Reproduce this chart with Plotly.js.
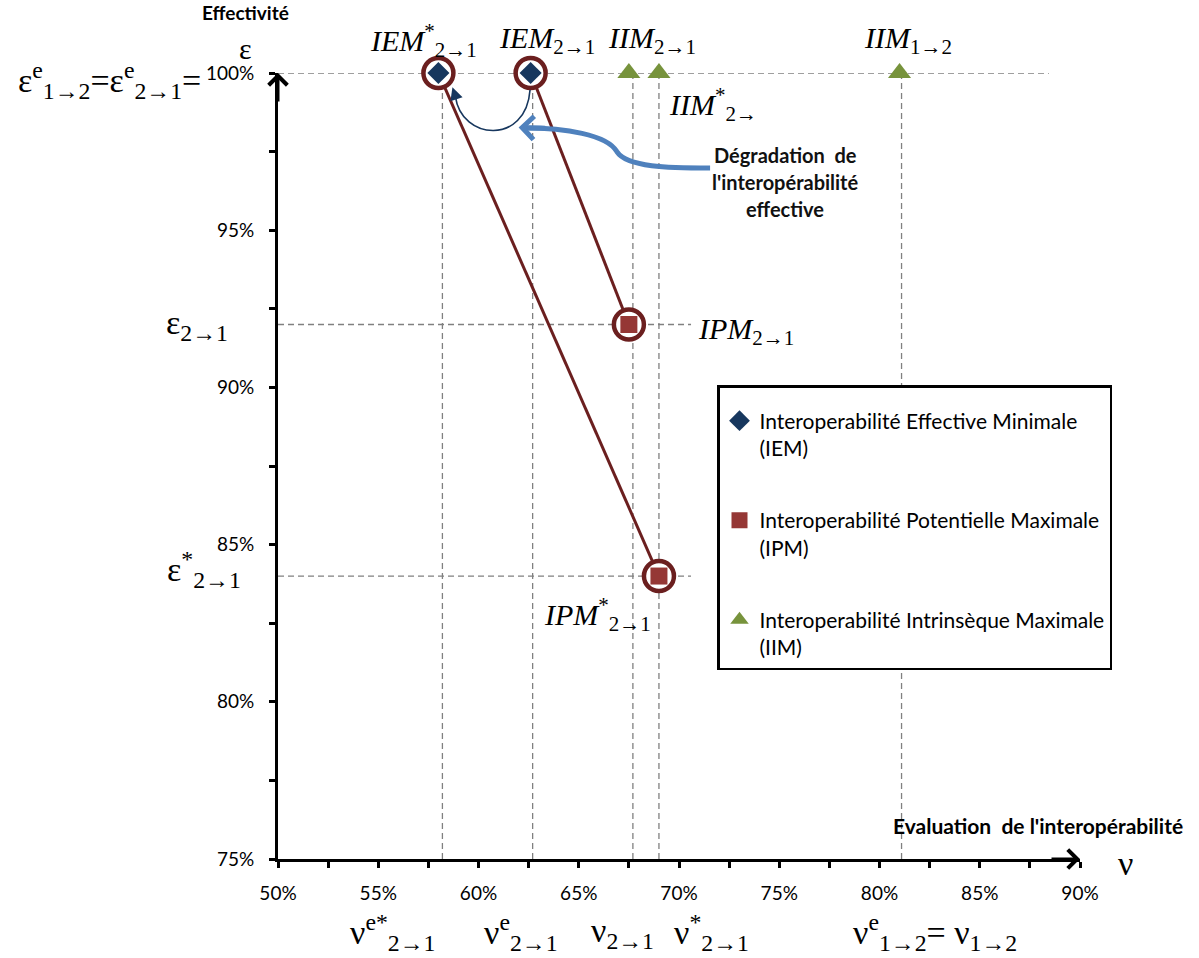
<!DOCTYPE html>
<html><head><meta charset="utf-8">
<script src="https://cdn.plot.ly/plotly-3.0.1.min.js"></script>
<style>html,body{margin:0;padding:0;background:#fff}#chart{width:1199px;height:958px}</style>
</head><body><div id="chart"></div><script>
// ---- data ----
const iemX = [58, 62.6];
const iemY = [100, 100];
const ipmX = [67.5, 69];
const ipmY = [92, 84];
const iimX = [67.5, 69, 81];
const iimY = [100, 100, 100];
const guideX = [58.2, 62.7, 67.7, 69, 81.1];
const guideXTop = [100.65, 100.65, 100, 100.9, 100];
const guideY = [100, 92, 84];
const guideYEnd = [88.45, 70.6, 70.6];
const xTickVals = [50, 55, 60, 65, 70, 75, 80, 85, 90];
const xTickText = ['50%', '55%', '60%', '65%', '70%', '75%', '80%', '85%', '90%'];
const yTickVals = [75, 80, 85, 90, 95, 100];
const yTickText = ['75%', '80%', '85%', '90%', '95%', '100%'];
const seriesNames = [
  'Interoperabilité Effective Minimale<br>(IEM)',
  'Interoperabilité Potentielle Maximale<br>(IPM)',
  'Interoperabilité Intrinsèque Maximale<br>(IIM)'
];

// ---- layout helpers ----
const L = 278, T = 73, W = 802, H = 786;
const px = v => (v - L) / W;
const py = v => (859 - v) / H;
const serif = 'Liberation Serif';
const maroon = '#6B1F1F';

const traces = [
  {x: [iemX[0], ipmX[1], null, iemX[1], ipmX[0]], y: [iemY[0], ipmY[1], null, iemY[1], ipmY[0]],
   mode: 'lines', line: {color: maroon, width: 3}, showlegend: false, hoverinfo: 'skip', cliponaxis: false},
  {x: iemX.concat(ipmX), y: iemY.concat(ipmY), mode: 'markers', showlegend: false, hoverinfo: 'skip', cliponaxis: false,
   marker: {symbol: 'circle', size: 30, color: '#fff', line: {color: maroon, width: 4.5}}},
  {x: iemX, y: iemY, mode: 'markers', name: seriesNames[0], legendgroup: 'a', cliponaxis: false,
   marker: {symbol: 'diamond', size: 17, color: '#17375E'}},
  {x: ipmX, y: ipmY, mode: 'markers', name: seriesNames[1], legendgroup: 'b', cliponaxis: false,
   marker: {symbol: 'square', size: 17, color: '#953735'}},
  {x: iimX, y: iimY, mode: 'markers', name: seriesNames[2], legendgroup: 'c', cliponaxis: false,
   marker: {symbol: 'triangle-up', size: 20, color: '#77933C'}}
];

const dash = {color: '#808080', width: 1.3, dash: '6px,4px'};
const shapes = [];
guideX.forEach((g, i) => shapes.push({type: 'line', xref: 'x', yref: 'y', x0: g, x1: g, y0: 75, y1: guideXTop[i], line: dash, layer: 'below'}));
guideY.forEach((g, i) => shapes.push({type: 'line', xref: 'x', yref: 'y', x0: 50, x1: guideYEnd[i], y0: g, y1: g, line: dash, layer: 'below'}));
// navy curved arrow (IEM -> IEM*)
const a0 = iemX[1] - 0.03, a3 = iemX[0] + 0.85;
shapes.push({type: 'path', xref: 'x', yref: 'y', layer: 'above',
  path: `M ${a0},99.46 C ${a0 - 0.2},97.7 ${a3 + 0.3},97.85 ${a3},99.25`,
  line: {color: '#17375E', width: 1.6}});
// blue thick arrow
shapes.push({type: 'path', xref: 'x', yref: 'y', layer: 'above',
  path: 'M 71.55,96.98 C 69.5,96.98 67.4,97.0 66.9,97.5 C 66.4,98.05 64.3,98.25 62.3,98.25',
  line: {color: '#4F81BD', width: 5}});

const ann = [];
function txt(text, x, y, size, opts) {
  ann.push(Object.assign({text: text, xref: 'paper', yref: 'paper', x: px(x), y: py(y), showarrow: false,
    xanchor: 'left', yanchor: 'middle', font: {family: serif, size: size, color: '#000'}}, opts || {}));
}
// arrows on axes
ann.push({x: 90, y: 75, xref: 'x', yref: 'y', ax: -30, ay: 0, text: '', showarrow: true, arrowhead: 4, arrowsize: 1.2, arrowwidth: 3, arrowcolor: '#000', standoff: 0});
ann.push({x: 50, y: 100, xref: 'x', yref: 'y', ax: 0, ay: 30, text: '', showarrow: true, arrowhead: 4, arrowsize: 1.2, arrowwidth: 3, arrowcolor: '#000', standoff: 0});
// arrowheads of the curved arrows
ann.push({x: iemX[0] + 0.7, y: 99.55, xref: 'x', yref: 'y', ax: 4, ay: 12, text: '', showarrow: true, arrowhead: 2, arrowsize: 1.6, arrowwidth: 1.6, arrowcolor: '#17375E', standoff: 0});
ann.push({x: 62.0, y: 98.27, xref: 'x', yref: 'y', ax: 28, ay: 1, text: '', showarrow: true, arrowhead: 4, arrowsize: 0.9, arrowwidth: 5, arrowcolor: '#4F81BD', standoff: 0});

// point labels
txt('<i>IEM</i><sup>*</sup><sub>2→1</sub>', 368, 40, 30);
txt('<i>IEM</i><sub>2→1</sub>', 497, 40, 30);
txt('<i>IIM</i><sub>2→1</sub>', 606, 40, 30);
txt('<i>IIM</i><sup>*</sup><sub>2→</sub>', 667, 104, 30);
txt('<i>IIM</i><sub>1→2</sub>', 862, 40, 30);
txt('<i>IPM</i><sub>2→1</sub>', 696, 331, 30);
txt('<i>IPM</i><sup>*</sup><sub>2→1</sub>', 542, 614, 30);
// y side labels
txt('<span style="font-family:Lato;font-size:19px"><b>Effectivité</b></span><br>ε', 245, 33, 30, {xanchor: 'center', align: 'center'});
txt('ε<sup>e</sup><sub>1→2</sub>=ε<sup>e</sup><sub>2→1</sub>=', 203, 81, 34, {xanchor: 'right'});
txt('ε<sub>2→1</sub>', 230, 325, 34, {xanchor: 'right'});
txt('ε<sup>*</sup><sub>2→1</sub>', 243, 569, 34, {xanchor: 'right'});
// x side labels
txt('<b>Evaluation  de l\'interopérabilité</b>', 891, 825, 21, {font: {family: 'Lato', size: 21, color: '#000'}});
txt('ν', 1125, 864, 34, {xanchor: 'center'});
txt('ν<sup>e*</sup><sub>2→1</sub>', 348, 933, 34);
txt('ν<sup>e</sup><sub>2→1</sub>', 482, 933, 34);
txt('ν<sub>2→1</sub>', 589, 933, 34);
txt('ν<sup>*</sup><sub>2→1</sub>', 672, 933, 34);
txt('ν<sup>e</sup><sub>1→2</sub>= ν<sub>1→2</sub>', 851, 933, 34);
// callout text
const bold = {xanchor: 'center', font: {family: 'Lato', size: 20, color: '#111'}};
txt('<b>Dégradation  de</b>', 785, 155, 20, bold);
txt('<b>l\'interopérabilité</b>', 785, 182, 20, bold);
txt('<b>effective</b>', 785, 209, 20, bold);

const axisCommon = {showgrid: false, zeroline: false, showline: true, linecolor: '#000', linewidth: 3,
  ticks: 'outside', ticklen: 6, tickwidth: 3, tickcolor: '#000', fixedrange: true,
  tickfont: {family: 'Lato', size: 19, color: '#000'}};
const layout = {
  width: 1199, height: 958,
  margin: {l: L, r: 1199 - L - W, t: T, b: 958 - T - H, pad: 0},
  paper_bgcolor: '#fff', plot_bgcolor: '#fff',
  xaxis: Object.assign({}, axisCommon, {range: [50, 90], tickvals: xTickVals, ticktext: xTickText,
    minor: {dtick: 2.5, tick0: 50, ticks: 'outside', ticklen: 6, tickwidth: 3, tickcolor: '#000'}, ticklabelstandoff: 9}),
  yaxis: Object.assign({}, axisCommon, {range: [75, 100], tickvals: yTickVals, ticktext: yTickText,
    minor: {dtick: 2.5, tick0: 75, ticks: 'outside', ticklen: 6, tickwidth: 3, tickcolor: '#000'}, ticklabelstandoff: 11}),
  showlegend: true,
  legend: {x: px(717), y: py(385), xanchor: 'left', yanchor: 'top', bgcolor: '#fff', bordercolor: '#000', borderwidth: 2.5,
    font: {family: 'Lato', size: 21, color: '#000'}, traceorder: 'grouped', tracegroupgap: 42, valign: 'top',
    title: {text: ' ', font: {size: 10}}},
  shapes: shapes,
  annotations: ann
};
Plotly.newPlot('chart', traces, layout, {staticPlot: true, displayModeBar: false});
</script></body></html>
